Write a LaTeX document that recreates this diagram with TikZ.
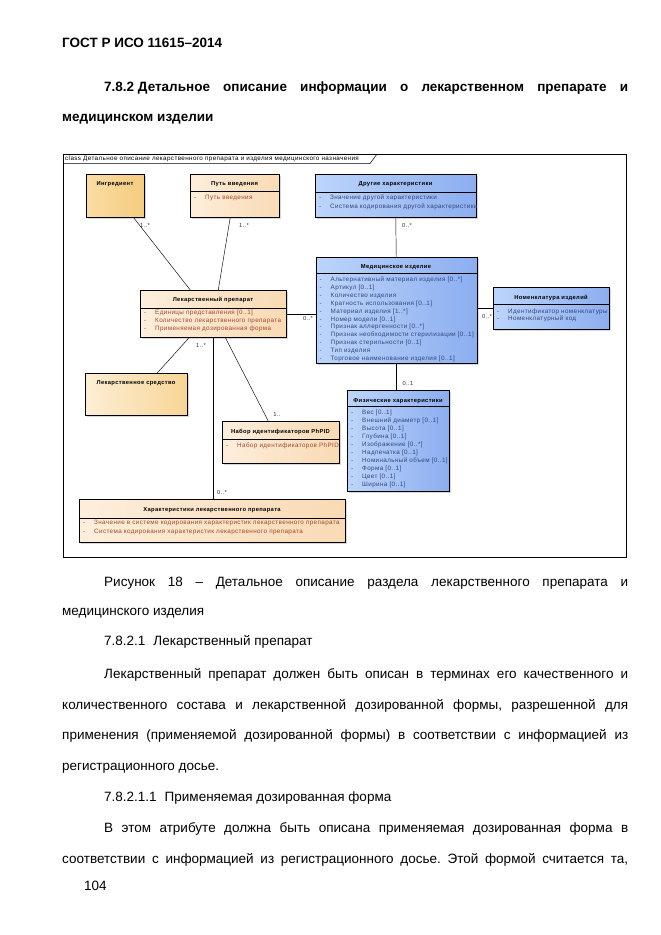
\documentclass[tikz,border=0pt]{standalone}
\usepackage{fontspec}
\setmainfont{Liberation Sans}
\newfontfamily\umlfont[LetterSpace=6]{Liberation Sans}
\usetikzlibrary{shadows}
\frenchspacing

\definecolor{ingrL}{HTML}{FADDA5}
\definecolor{ingrR}{HTML}{F5CB7E}
\definecolor{lsL}{HTML}{FDEED6}
\definecolor{lsR}{HTML}{F8D596}
\definecolor{peachL}{HTML}{FDEEDC}
\definecolor{peachR}{HTML}{F9DAB4}
\definecolor{blueL}{HTML}{BCD5FB}
\definecolor{blueR}{HTML}{8CAEF0}
\definecolor{rust}{HTML}{A4482A}
\definecolor{navy}{HTML}{34457A}

% one list of attributes: name, left x, first baseline, step, colour, items
\newcommand{\attrlist}[6]{%
  \foreach \a [count=\i] in {#6} {
    \node[attr, text=#5] (#1-d\i) at (#2+4, #3+\i*#4-#4) {-};
    \node[attr, text=#5] (#1-\i) at (#2+15, #3+\i*#4-#4) {\a};
  }}

\begin{document}
\begin{tikzpicture}[x=1pt, y=-1pt,
    txt/.style={anchor=base west, inner sep=0pt, font=\fontsize{13.5}{16}\selectfont},
    cls/.style={draw=black, line width=0.5pt, anchor=north west, inner sep=0pt,
      drop shadow={shadow xshift=2pt, shadow yshift=-2pt, fill=black!30, opacity=0.5}},
    orng/.style={cls, left color=ingrL, right color=ingrR},
    lsbox/.style={cls, left color=lsL, right color=lsR},
    peach/.style={cls, left color=peachL, right color=peachR},
    blue/.style={cls, left color=blueL, right color=blueR},
    ttl/.style={anchor=base, inner sep=0pt, font=\umlfont\bfseries\fontsize{5.8}{7}\selectfont},
    attr/.style={anchor=base west, inner sep=0pt, font=\umlfont\fontsize{6.3}{7}\selectfont},
    mult/.style={inner sep=0pt, font=\umlfont\fontsize{5.8}{7}\selectfont, text=black!80},
    link/.style={draw=black, line width=0.45pt}]
\useasboundingbox (0,0) rectangle (661,935);
\fill[white] (0,0) rectangle (661,935);

% page text
\node[txt, font=\fontsize{13.5}{16}\selectfont\bfseries] (gost) at (62,47) {ГОСТ Р ИСО 11615–2014};
\node[txt, font=\fontsize{13.5}{16}\selectfont\bfseries] (sec) at (104,91)
  {\makebox[524pt][s]{7.8.2\hspace{0.28em}Детальное описание информации о лекарственном препарате и}};
\node[txt, font=\fontsize{13.5}{16}\selectfont\bfseries] (sec2) at (62,121) {медицинском изделии};

% diagram frame
\node[draw=black, line width=0.6pt, anchor=north west, inner sep=0pt,
  minimum width=563pt, minimum height=403pt] (frame) at (63,154) {};
\draw[line width=0.5pt] (63,163.5) -- (370,163.5) -- (377,154);
\node[attr, anchor=west] (tab) at (65,158.8)
  {class Детальное описание лекарственного препарата и изделия медицинского назначения};

% classes
\node[orng, minimum width=58pt, minimum height=43pt] (ingr) at (86,174) {};
\node[ttl] (ingr-t) at (115,185.5) {Ингредиент};

\node[peach, minimum width=89pt, minimum height=43pt] (ptv) at (190,174) {};
\node[ttl] (ptv-t) at (234.5,185.5) {Путь введения};
\draw (190,191.5) -- (279,191.5);
\attrlist{ptv}{190}{199.7}{8}{rust}{Путь введения}

\node[blue, minimum width=161pt, minimum height=43pt] (drch) at (315,174) {};
\node[ttl] (drch-t) at (395.5,185.5) {Другие характеристики};
\draw (315,191.7) -- (476,191.7);
\attrlist{drch}{315}{199.7}{8.3}{navy}{Значение другой характеристики,Система кодирования другой характеристики}

\node[blue, minimum width=161pt, minimum height=106pt] (medi) at (315.5,257) {};
\node[ttl] (medi-t) at (396,268) {Медицинское изделие};
\draw (315.5,273.3) -- (476.5,273.3);
\attrlist{medi}{315.5}{281.3}{7.94}{navy}{Альтернативный материал изделия [0..*],Артикул [0..1],Количество изделия,Кратность использования [0..1],Материал изделия [1..*],Номер модели [0..1],Признак аллергенности [0..*],Признак необходимости стерилизации [0..1],Признак стерильности [0..1],Тип изделия,Торговое наименование изделия [0..1]}

\node[blue, minimum width=116pt, minimum height=42pt] (nomk) at (493,287) {};
\node[ttl] (nomk-t) at (551,299) {Номенклатура изделий};
\draw (493,304) -- (609,304);
\attrlist{nomk}{493}{313}{7.4}{navy}{Идентификатор номенклатуры,Номенклатурный код}

\node[peach, minimum width=146pt, minimum height=47pt] (lkpr) at (140,290) {};
\node[ttl] (lkpr-t) at (213,301) {Лекарственный препарат};
\draw (140,308.3) -- (286,308.3);
\attrlist{lkpr}{140}{314.3}{8.3}{rust}{Единицы представления [0..1],Количество лекарственного препарата,Применяемая дозированная форма}

\node[lsbox, minimum width=102pt, minimum height=42pt] (lksr) at (85,373) {};
\node[ttl] (lksr-t) at (136,384) {Лекарственное средство};

\node[peach, minimum width=117pt, minimum height=42pt] (phpid) at (222,421) {};
\node[ttl] (phpid-t) at (280.5,433) {Набор идентификаторов PhPID};
\draw (222,439) -- (339,439);
\attrlist{phpid}{222}{447}{8}{rust}{Набор идентификаторов PhPID}

\node[blue, minimum width=102pt, minimum height=101pt] (fizch) at (347,390) {};
\node[ttl] (fizch-t) at (398,402) {Физические характеристики};
\draw (347,405.7) -- (449,405.7);
\attrlist{fizch}{347}{414.7}{8.03}{navy}{Вес [0..1],Внешний диаметр [0..1],Высота [0..1],Глубина [0..1],Изображение [0..*],Надпечатка [0..1],Номинальный объем [0..1],Форма [0..1],Цвет [0..1],Ширина [0..1]}

\node[peach, minimum width=266pt, minimum height=43pt] (harlp) at (79,499) {};
\node[ttl] (harlp-t) at (212,511.5) {Характеристики лекарственного препарата};
\draw (79,517.7) -- (345,517.7);
\attrlist{harlp}{79}{524.7}{8.5}{rust}{Значение в системе кодирования характеристик лекарственного препарата,Система кодирования характеристик лекарственного препарата}

% associations
\draw[link] ([xshift=-11pt]ingr.south east) -- ([xshift=-23pt]lkpr.north);
\draw[link] ([xshift=-4.5pt]ptv.south) -- ([xshift=5pt]lkpr.north);
\draw[link] (drch.south) -- (medi.north);
\draw[link] (lkpr.east) -- (lkpr.east -| medi.west);
\draw[link] (nomk.west) -- (nomk.west -| medi.east);
\draw[link] (medi.south) -- (medi.south |- fizch.north);
\draw[link] ([xshift=-24pt]lkpr.south) -- ([xshift=21pt]lksr.north);
\draw[link] ([xshift=12pt]lkpr.south) -- ([xshift=-12.5pt]phpid.north);
\draw[link] (lkpr.south) -- (lkpr.south |- harlp.north);

\node[mult] (m1) at (145,225) {1..*};
\node[mult] (m2) at (244,225) {1..*};
\node[mult] (m3) at (407,225) {0..*};
\node[mult] (m4) at (308,318.5) {0..*};
\node[mult] (m5) at (487,316) {0..*};
\node[mult] (m6) at (408,383) {0..1};
\node[mult] (m7) at (201,345) {1..*};
\node[mult] (m8) at (277,414) {1..};
\node[mult] (m9) at (222,492.5) {0..*};

% text below
\node[txt] (cap) at (104,586)
  {\makebox[524pt][s]{Рисунок 18 – Детальное описание раздела лекарственного препарата и}};
\node[txt] (cap2) at (62,615) {медицинского изделия};
\node[txt] (p1h) at (104,645) {7.8.2.1\hspace{8pt}Лекарственный препарат};
\node[txt] (p1a) at (104,678)
  {\makebox[524pt][s]{Лекарственный препарат должен быть описан в терминах его качественного и}};
\node[txt] (p1b) at (62,709)
  {\makebox[566pt][s]{количественного состава и лекарственной дозированной формы, разрешенной для}};
\node[txt] (p1c) at (62,739)
  {\makebox[566pt][s]{применения (применяемой дозированной формы) в соответствии с информацией из}};
\node[txt] (p1d) at (62,770) {регистрационного досье.};
\node[txt] (p2h) at (104,801) {7.8.2.1.1\hspace{8pt}Применяемая дозированная форма};
\node[txt] (p2a) at (104,832)
  {\makebox[524pt][s]{В этом атрибуте должна быть описана применяемая дозированная форма в}};
\node[txt] (p2b) at (62,863)
  {\makebox[566pt][s]{соответствии с информацией из регистрационного досье. Этой формой считается та,}};
\node[txt] (pg) at (84,890) {104};
\end{tikzpicture}
\end{document}
